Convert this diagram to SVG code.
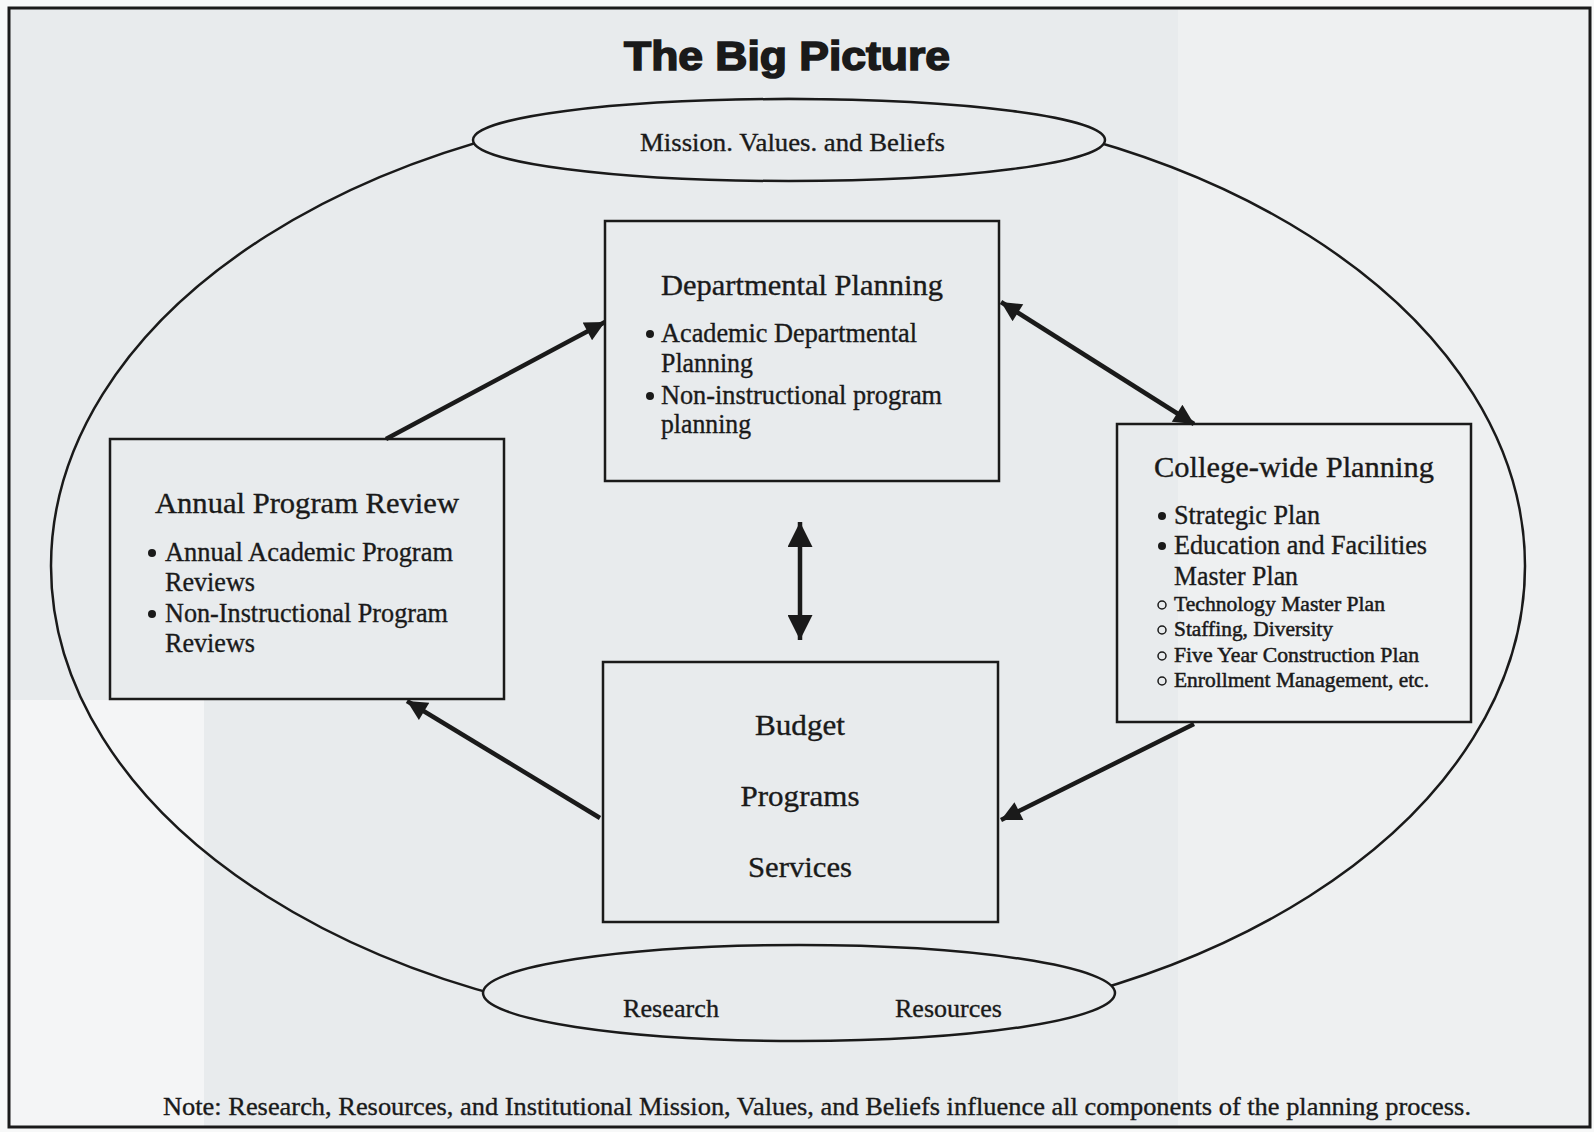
<svg xmlns="http://www.w3.org/2000/svg" width="1594" height="1132" viewBox="0 0 1594 1132">
<defs>
<style>
.t{font-family:"Liberation Serif","Times New Roman",serif;fill:#1a1a1a;stroke:#1a1a1a;stroke-width:0.35}
.h{font-size:29px}
.b{font-size:27px}
.m{font-size:26px}
.s{font-size:22px;stroke-width:0.5}
.box{fill:none;stroke:#1a1a1a;stroke-width:2.5}
.ell{stroke:#1a1a1a;stroke-width:2.5}
.con{stroke:#1a1a1a;stroke-width:4.5;fill:none}
.dot{fill:#1a1a1a}
.ring{fill:none;stroke:#1a1a1a;stroke-width:1.5}
</style>
<marker id="ah" viewBox="0 0 10 10" refX="10" refY="5" markerUnits="userSpaceOnUse" markerWidth="26" markerHeight="20" orient="auto-start-reverse">
<path d="M0,0 L10,5 L0,10 z" fill="#1a1a1a"/>
</marker>
<marker id="ahb" viewBox="0 0 10 10" refX="10" refY="5" markerUnits="userSpaceOnUse" markerWidth="25" markerHeight="25" orient="auto-start-reverse">
<path d="M0,0 L10,5 L0,10 z" fill="#1a1a1a"/>
</marker>
</defs>
<rect x="0" y="0" width="1594" height="1132" fill="#f7f8f8"/>
<rect x="9" y="8" width="1581" height="1119" fill="#e8ebed"/>
<rect x="1178" y="8" width="412" height="1119" fill="#eef0f1"/>
<rect x="9" y="700" width="195" height="427" fill="#f4f5f6"/>
<rect x="9" y="8" width="1581" height="1119" fill="none" stroke="#1a1a1a" stroke-width="3"/>

<text x="787" y="70" text-anchor="middle" font-family="'Liberation Sans',Arial,sans-serif" font-weight="bold" font-size="40" fill="#1a1a1a" stroke="#1a1a1a" stroke-width="1.6" textLength="326" lengthAdjust="spacingAndGlyphs">The Big Picture</text>

<g id="outer">
<ellipse cx="788" cy="566" rx="737" ry="467" class="ell" fill="none"/>
</g>

<g id="mission">
<ellipse cx="789" cy="140" rx="316" ry="41" class="ell" fill="#e8ebed"/>
<text class="t m" x="640" y="151" textLength="305" lengthAdjust="spacingAndGlyphs">Mission. Values. and Beliefs</text>
</g>

<g id="research-resources">
<ellipse cx="799" cy="993" rx="316" ry="48" class="ell" fill="#e8ebed"/>
<text class="t m" x="623" y="1017" textLength="96" lengthAdjust="spacingAndGlyphs">Research</text>
<text class="t m" x="895" y="1017" textLength="107" lengthAdjust="spacingAndGlyphs">Resources</text>
</g>

<g id="departmental">
<rect x="605" y="221" width="394" height="260" class="box"/>
<text class="t h" x="661" y="295" textLength="282" lengthAdjust="spacingAndGlyphs">Departmental Planning</text>
<circle cx="650" cy="334" r="4" class="dot"/>
<text class="t b" x="661" y="342" textLength="256" lengthAdjust="spacingAndGlyphs">Academic Departmental</text>
<text class="t b" x="661" y="372" textLength="92" lengthAdjust="spacingAndGlyphs">Planning</text>
<circle cx="650" cy="396" r="4" class="dot"/>
<text class="t b" x="661" y="404" textLength="281" lengthAdjust="spacingAndGlyphs">Non-instructional program</text>
<text class="t b" x="661" y="433" textLength="90" lengthAdjust="spacingAndGlyphs">planning</text>
</g>

<g id="annual">
<rect x="110" y="439" width="394" height="260" class="box"/>
<text class="t h" x="155" y="513" textLength="304" lengthAdjust="spacingAndGlyphs">Annual Program Review</text>
<circle cx="152" cy="553" r="4" class="dot"/>
<text class="t b" x="165" y="561" textLength="288" lengthAdjust="spacingAndGlyphs">Annual Academic Program</text>
<text class="t b" x="165" y="591" textLength="90" lengthAdjust="spacingAndGlyphs">Reviews</text>
<circle cx="152" cy="614" r="4" class="dot"/>
<text class="t b" x="165" y="622" textLength="283" lengthAdjust="spacingAndGlyphs">Non-Instructional Program</text>
<text class="t b" x="165" y="652" textLength="90" lengthAdjust="spacingAndGlyphs">Reviews</text>
</g>

<g id="college">
<rect x="1117" y="424" width="354" height="298" class="box"/>
<text class="t h" x="1154" y="477" textLength="280" lengthAdjust="spacingAndGlyphs">College-wide Planning</text>
<circle cx="1162" cy="516" r="4" class="dot"/>
<text class="t b" x="1174" y="524" textLength="146" lengthAdjust="spacingAndGlyphs">Strategic Plan</text>
<circle cx="1162" cy="546" r="4" class="dot"/>
<text class="t b" x="1174" y="554" textLength="253" lengthAdjust="spacingAndGlyphs">Education and Facilities</text>
<text class="t b" x="1174" y="585" textLength="124" lengthAdjust="spacingAndGlyphs">Master Plan</text>
<circle cx="1162" cy="605" r="4" class="ring"/>
<text class="t s" x="1174" y="611" textLength="211" lengthAdjust="spacingAndGlyphs">Technology Master Plan</text>
<circle cx="1162" cy="630" r="4" class="ring"/>
<text class="t s" x="1174" y="636" textLength="159" lengthAdjust="spacingAndGlyphs">Staffing, Diversity</text>
<circle cx="1162" cy="656" r="4" class="ring"/>
<text class="t s" x="1174" y="662" textLength="245" lengthAdjust="spacingAndGlyphs">Five Year Construction Plan</text>
<circle cx="1162" cy="681" r="4" class="ring"/>
<text class="t s" x="1174" y="687" textLength="255" lengthAdjust="spacingAndGlyphs">Enrollment Management, etc.</text>
</g>

<g id="budget">
<rect x="603" y="662" width="395" height="260" class="box"/>
<text class="t h" x="800" y="735" text-anchor="middle" textLength="90" lengthAdjust="spacingAndGlyphs">Budget</text>
<text class="t h" x="800" y="806" text-anchor="middle" textLength="119" lengthAdjust="spacingAndGlyphs">Programs</text>
<text class="t h" x="800" y="877" text-anchor="middle" textLength="104" lengthAdjust="spacingAndGlyphs">Services</text>
</g>

<g id="connectors">
<line x1="386" y1="439" x2="605" y2="322" class="con" marker-end="url(#ah)"/>
<line x1="1001" y1="302" x2="1194" y2="424" class="con" marker-start="url(#ah)" marker-end="url(#ah)"/>
<line x1="800" y1="522" x2="800" y2="640" class="con" stroke-width="5" marker-start="url(#ahb)" marker-end="url(#ahb)"/>
<line x1="1194" y1="724" x2="1001" y2="820" class="con" marker-end="url(#ah)"/>
<line x1="600" y1="818" x2="407" y2="701" class="con" marker-end="url(#ah)"/>
</g>

<text class="t m" x="163" y="1115" textLength="1308" lengthAdjust="spacingAndGlyphs">Note: Research, Resources, and Institutional Mission, Values, and Beliefs influence all components of the planning process.</text>
</svg>
